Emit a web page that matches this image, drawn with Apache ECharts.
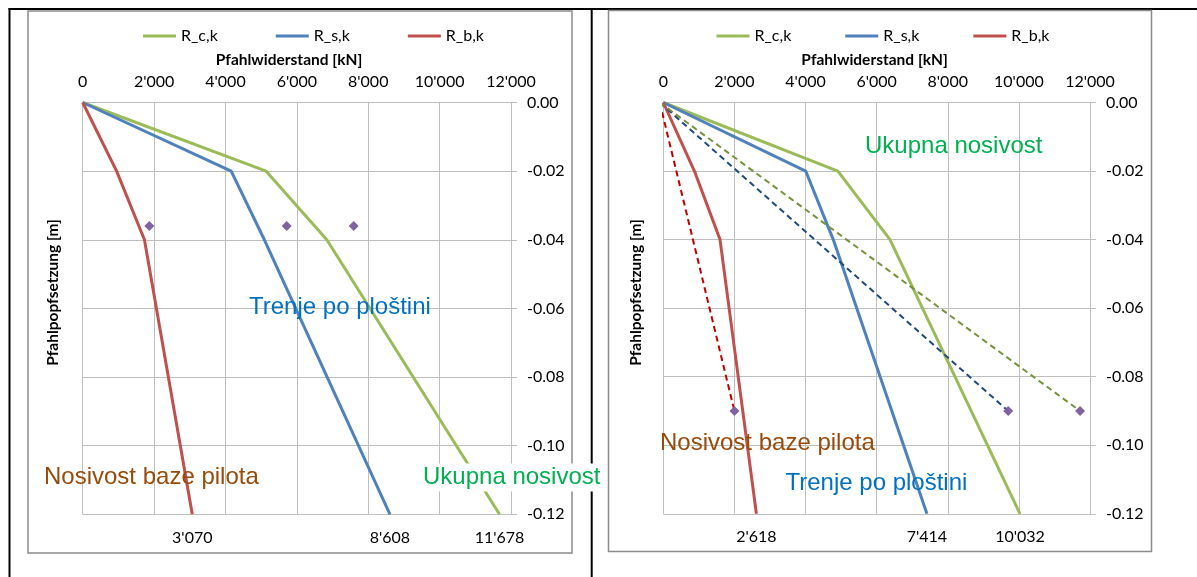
<!DOCTYPE html>
<html><head><meta charset="utf-8">
<script src="https://cdn.jsdelivr.net/npm/echarts@6/dist/echarts.min.js"></script>
<style>html,body{margin:0;padding:0;background:#fff}#c{width:1197px;height:577px}</style>
</head><body><div id="c"></div>
<script>
// ---- data ----
const seriesNames = ['R_c,k', 'R_s,k', 'R_b,k'];
const depths = [0, -0.02, -0.04, -0.12];           // settlement [m]
const leftRc = [0, 5140, 6840, 11678];
const leftRs = [0, 4160, 5090, 8608];
const leftRb = [0, 950, 1730, 3070];
const leftMarkX = [1866, 5716, 7593];
const leftMarkDepth = -0.036;
const rightRc = [0, 4910, 6375, 10032];
const rightRs = [0, 4005, 4780, 7414];
const rightRb = [0, 875, 1595, 2618];
const rightMarkX = [2000, 9700, 11720];            // Rb, Rs, Rc dashed ends
const rightMarkDepth = -0.09;
const dashStartX = -100;
const xTicks = [0, 2000, 4000, 6000, 8000, 10000, 12000];
const yTicks = [0, -0.02, -0.04, -0.06, -0.08, -0.10, -0.12];

// ---- style ----
const C = { green: '#9BBB59', blue: '#4F81BD', red: '#C0504D', purple: '#8064A2',
  dRed: '#C00000', dBlue: '#1F497D', dGreen: '#76923C', grid: '#BFBFBF' };
const fmtK = v => String(Math.round(v)).replace(/\B(?=(\d{3})+(?!\d))/g, "'");
const smallFont = 'Lato';

function xAxis(gi) {
  return { gridIndex: gi, type: 'value', position: 'top', min: xTicks[0], max: xTicks[xTicks.length - 1],
    interval: xTicks[1] - xTicks[0],
    axisLine: { show: true, onZero: false, lineStyle: { color: C.grid, width: 1 } },
    axisTick: { show: false },
    axisLabel: { margin: 13, fontFamily: smallFont, fontSize: 16, color: '#000', formatter: fmtK },
    splitLine: { show: true, lineStyle: { color: C.grid, width: 1 } } };
}
function yAxis(gi) {
  return { gridIndex: gi, type: 'value', position: 'right', min: yTicks[yTicks.length - 1], max: yTicks[0],
    interval: yTicks[0] - yTicks[1],
    axisLine: { show: true, onZero: false, lineStyle: { color: C.grid, width: 1 } },
    axisTick: { show: true, inside: false, length: 6, lineStyle: { color: C.grid } },
    axisLabel: { margin: 16, fontFamily: smallFont, fontSize: 16, color: '#000', formatter: v => v.toFixed(2) },
    splitLine: { show: true, lineStyle: { color: C.grid, width: 1 } } };
}
function line(gi, name, xs, color) {
  return { type: 'line', name: name, xAxisIndex: gi, yAxisIndex: gi, symbol: 'none',
    data: xs.map((x, i) => [x, depths[i]]), lineStyle: { color: color, width: 3 },
    itemStyle: { color: color }, z: 3 };
}
function marks(gi, xs, d) {
  return { type: 'scatter', name: 'marks' + gi, xAxisIndex: gi, yAxisIndex: gi, symbol: 'diamond',
    symbolSize: [10, 10], data: xs.map(x => [x, d]), itemStyle: { color: C.purple, opacity: 1 }, z: 5 };
}
function endLabels(gi, arrs) {
  return { type: 'scatter', name: 'ends' + gi, xAxisIndex: gi, yAxisIndex: gi, symbolSize: 1,
    data: arrs.map(a => [a[a.length - 1], depths[depths.length - 1]]),
    itemStyle: { color: 'transparent', opacity: 1 },
    label: { show: true, position: 'bottom', distance: 15, fontFamily: smallFont, fontSize: 16, color: '#000',
      opacity: 1, formatter: p => fmtK(p.value[0]) }, z: 6 };
}
function dashed(gi, name, xEnd, color) {
  return { type: 'line', name: name, xAxisIndex: gi, yAxisIndex: gi, symbol: 'none', clip: false,
    data: [[dashStartX, 0], [xEnd, rightMarkDepth]], lineStyle: { color: color, width: 2, type: [6, 4] }, z: 4 };
}
function txt(text, x, y, color, extra) {
  return Object.assign({ type: 'text', x: x, y: y, z: 100,
    style: Object.assign({ text: text, fill: color, font: '24px "Liberation Sans", Arial, sans-serif',
      align: 'left', verticalAlign: 'middle', textAlign: 'left', textVerticalAlign: 'middle' }, extra || {}) });
}
function boldName(text, x, y, rot) {
  return { type: 'text', x: x, y: y, rotation: rot || 0, z: 100,
    style: { text: text, fill: '#000', font: 'bold 15.5px Lato', align: 'center', verticalAlign: 'middle',
      textAlign: 'center', textVerticalAlign: 'middle' } };
}
function legend(left, gap) {
  return { data: seriesNames, left: left, top: 28, padding: 0, itemWidth: 33, itemHeight: 3, itemGap: gap,
    icon: 'rect', selectedMode: false, textStyle: { fontFamily: smallFont, fontSize: 16, color: '#000' } };
}

const option = {
  animation: false,
  backgroundColor: '#fff',
  legend: [legend(143, 58), legend(716.5, 54)],
  grid: [
    { left: 82.7, top: 102.5, width: 428.3, height: 411.8 },
    { left: 663.3, top: 102.5, width: 426.7, height: 411.3 }
  ],
  xAxis: [xAxis(0), xAxis(1)],
  yAxis: [yAxis(0), yAxis(1)],
  series: [
    line(0, seriesNames[0], leftRc, C.green),
    line(0, seriesNames[1], leftRs, C.blue),
    line(0, seriesNames[2], leftRb, C.red),
    marks(0, leftMarkX, leftMarkDepth),
    endLabels(0, [leftRb, leftRs, leftRc]),
    line(1, seriesNames[0], rightRc, C.green),
    line(1, seriesNames[1], rightRs, C.blue),
    line(1, seriesNames[2], rightRb, C.red),
    dashed(1, 'dRb', rightMarkX[0], C.dRed),
    dashed(1, 'dRs', rightMarkX[1], C.dBlue),
    dashed(1, 'dRc', rightMarkX[2], C.dGreen),
    marks(1, rightMarkX, rightMarkDepth),
    endLabels(1, [rightRb, rightRs, rightRc])
  ],
  graphic: [
    // table borders
    { type: 'line', shape: { x1: 8.5, y1: 9, x2: 1197, y2: 9 }, style: { stroke: '#000', lineWidth: 2 }, z: 50 },
    { type: 'line', shape: { x1: 9.5, y1: 8, x2: 9.5, y2: 577 }, style: { stroke: '#000', lineWidth: 2 }, z: 50 },
    { type: 'line', shape: { x1: 591.7, y1: 8, x2: 591.7, y2: 577 }, style: { stroke: '#000', lineWidth: 2 }, z: 50 },
    // chart frames
    { type: 'rect', shape: { x: 28, y: 11, width: 544, height: 542 }, style: { fill: 'none', stroke: '#8C8C8C', lineWidth: 1.5 }, z: 50 },
    { type: 'rect', shape: { x: 608.5, y: 10.5, width: 543, height: 541 }, style: { fill: 'none', stroke: '#8C8C8C', lineWidth: 1.5 }, z: 50 },
    // axis names
    boldName('Pfahlwiderstand [kN]', 289, 60),
    boldName('Pfahlwiderstand [kN]', 874.6, 60),
    boldName('Pfahlpopfsetzung [m]', 53.3, 292.5, Math.PI / 2),
    boldName('Pfahlpopfsetzung [m]', 636, 292.5, Math.PI / 2),
    // annotations
    txt('Trenje po ploštini', 249, 307, '#0070C0'),
    txt('Nosivost baze pilota', 44, 477.5, '#9A4A08'),
    txt('Ukupna nosivost', 423, 477.5, '#00B050', { backgroundColor: '#fff', padding: [2, 2, 2, 0] }),
    txt('Ukupna nosivost', 865, 146, '#00B050'),
    txt('Nosivost baze pilota', 660, 443, '#9A4A08'),
    txt('Trenje po ploštini', 785.5, 483.5, '#0070C0')
  ]
};
const chart = echarts.init(document.getElementById('c'), null, { renderer: 'canvas' });
chart.setOption(option);
</script></body></html>
